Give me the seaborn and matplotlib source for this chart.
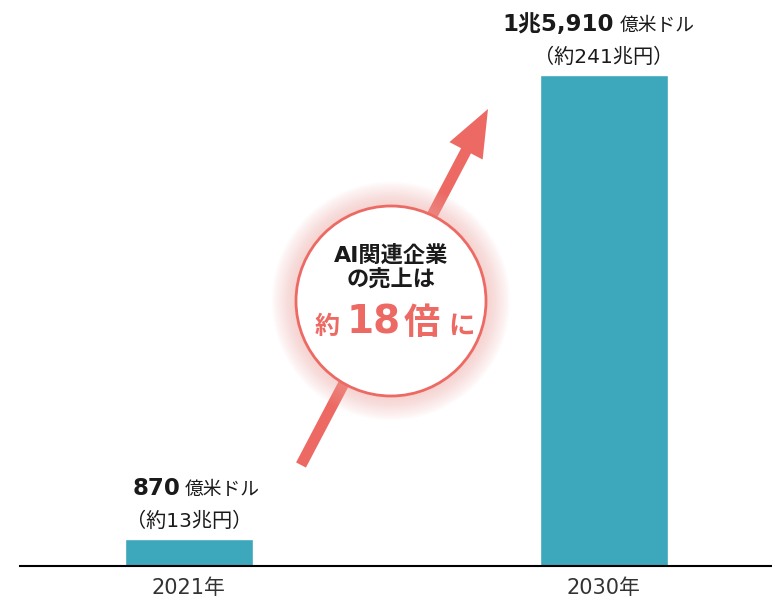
import matplotlib
matplotlib.use("Agg")
import matplotlib.pyplot as plt
import seaborn as sns
from matplotlib.patches import Circle

sns.set_style("white")
plt.rcParams['font.family'] = ['DejaVu Sans', 'Noto Sans CJK JP']

# データ
years = ['2021年', '2030年']
sales = [870, 15910]  # 億米ドル
main_labels = ['870', '1兆5,910']
yen_labels = ['（約13兆円）', '（約241兆円）']
unit = '億米ドル'

bar_color = '#3DA7BB'
red = '#EC6A63'

fig = plt.figure(figsize=(7.72, 5.99), dpi=100)
ax = fig.add_axes([20/772, 33/599, 752/772, 566/599])
sns.barplot(x=years, y=sales, color=bar_color, saturation=1, width=0.31, ax=ax)
ax.set_xlim(-0.407, 1.405)
ax.set_ylim(0, 15910 * 566 / 491)
for s in ['top', 'right', 'left']:
    ax.spines[s].set_visible(False)
ax.spines['bottom'].set_color('black')
ax.spines['bottom'].set_linewidth(1.5)
ax.set_yticks([])
ax.set_xlabel('')
ax.set_ylabel('')
ax.tick_params(axis='x', length=0, pad=9, labelsize=15, labelcolor='#333333')

# 値ラベル
offsets = [(-6, -3), (7, 11)]  # (数字の右端, 単位の左端) bar center からの points
for i, v in enumerate(sales):
    dr, dl = offsets[i]
    ax.annotate(main_labels[i], xy=(i, v), xytext=(dr, 32), textcoords='offset points',
                ha='right', va='baseline', fontsize=16.5, fontweight='bold', color='#1a1a1a')
    ax.annotate(unit, xy=(i, v), xytext=(dl, 32), textcoords='offset points',
                ha='left', va='baseline', fontsize=13.5, color='#1a1a1a')
    ax.annotate(yen_labels[i], xy=(i, v), xytext=(0, 13), textcoords='offset points',
                ha='center', va='center', fontsize=14.5, color='#1a1a1a')

# 矢印と円
ov = fig.add_axes([0, 0, 1, 1], zorder=5)
ov.set_xlim(0, 772)
ov.set_ylim(599, 0)
ov.axis('off')

ov.annotate('', xy=(488, 109), xytext=(301, 465), zorder=1,
            arrowprops=dict(arrowstyle='simple,head_length=3.4,head_width=2.7,tail_width=0.8',
                            mutation_scale=10, color=red, shrinkA=0, shrinkB=0, lw=0))

cx, cy, r = 391, 301, 95
for k in range(12):
    ov.add_patch(Circle((cx, cy), r + 24 - k * 2, color='#F6AAA4', alpha=0.05, lw=0, zorder=2))
ov.add_patch(Circle((cx, cy), r, facecolor='white', edgecolor=red, lw=2, zorder=2.5))

ov.text(cx, 255, 'AI関連企業', ha='center', va='center', fontsize=16,
        fontweight='bold', color='#1a1a1a', zorder=3)
ov.text(cx, 280, 'の売上は', ha='center', va='center', fontsize=16,
        fontweight='bold', color='#1a1a1a', zorder=3)
ov.text(327, 334, '約', ha='center', va='baseline', fontsize=18, fontweight='bold', color=red, zorder=3)
ov.text(374, 334, '18', ha='center', va='baseline', fontsize=28, fontweight='bold', color=red, zorder=3)
ov.text(422, 334, '倍', ha='center', va='baseline', fontsize=26, fontweight='bold', color=red, zorder=3)
ov.text(461, 334, 'に', ha='center', va='baseline', fontsize=19, fontweight='bold', color=red, zorder=3)

plt.savefig('out.png', dpi=100)
